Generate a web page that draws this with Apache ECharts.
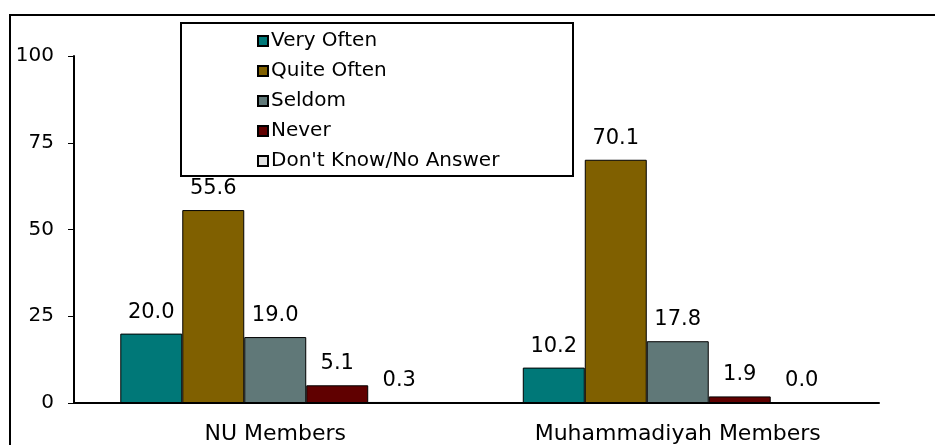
<!DOCTYPE html>
<html>
<head>
<meta charset="utf-8">
<script src="https://cdn.jsdelivr.net/npm/echarts@6/dist/echarts.min.js"></script>
<style>
  html, body { margin: 0; padding: 0; background: #fff; }
  #chart { width: 935px; height: 445px; }
</style>
</head>
<body>
<div id="chart"></div>
<script>
const categories = ['NU Members', 'Muhammadiyah Members'];
const seriesNames = ['Very Often', 'Quite Often', 'Seldom', 'Never', "Don't Know/No Answer"];
const veryOften = [20.0, 10.2];
const quiteOften = [55.6, 70.1];
const seldom = [19.0, 17.8];
const never = [5.1, 1.9];
const dontKnow = [0.3, 0.0];
const yTicks = [0, 25, 50, 75, 100];

const colors = ['#007878', '#806000', '#607878', '#600000', '#E0E0E0'];
const font = 'Verdana, "DejaVu Sans", sans-serif';

const barSeries = {
  type: 'bar',
  barGap: 0,
  barCategoryGap: '23%',
  itemStyle: {
    borderColor: '#000',
    borderWidth: 1
  },
  label: {
    show: true,
    position: 'top',
    distance: 11,
    fontFamily: font,
    fontSize: 21,
    color: '#000',
    formatter: p => p.value.toFixed(1)
  }
};

const allData = [veryOften, quiteOften, seldom, never, dontKnow];

const chart = echarts.init(document.getElementById('chart'));
const option = {
  animation: false,
  color: colors,
  grid: {
    left: 74,
    right: 56,
    top: 56,
    bottom: 40
  },
  graphic: [
    {
      type: 'rect',
      shape: { x: 10, y: 15, width: 940, height: 450 },
      style: { fill: 'none', stroke: '#000', lineWidth: 2 },
      z: 0
    },
    {
      type: 'rect',
      shape: { x: 181, y: 23, width: 392, height: 153 },
      style: { fill: '#fff', stroke: '#000', lineWidth: 2 },
      z: 10
    }
  ],
  legend: {
    orient: 'vertical',
    left: 252,
    top: 26,
    itemWidth: 10,
    itemHeight: 10,
    itemGap: 10,
    icon: 'rect',
    z: 20,
    textStyle: {
      fontFamily: font,
      fontSize: 20,
      color: '#000',
      lineHeight: 20,
      padding: [0, 0, 0, -2]
    },
    data: seriesNames
  },
  xAxis: {
    type: 'category',
    data: categories,
    axisLine: { lineStyle: { color: '#000', width: 2 } },
    axisTick: { length: 8, lineStyle: { color: '#000' } },
    axisLabel: {
      fontFamily: font,
      fontSize: 22,
      color: '#000',
      margin: 20
    }
  },
  yAxis: {
    type: 'value',
    min: yTicks[0],
    max: yTicks[yTicks.length - 1],
    interval: 25,
    axisLine: { show: true, lineStyle: { color: '#000', width: 2 } },
    axisTick: { show: true, length: 6, lineStyle: { color: '#000' } },
    splitLine: { show: false },
    axisLabel: {
      fontFamily: font,
      fontSize: 20,
      color: '#000',
      margin: 20
    }
  },
  series: seriesNames.map((name, i) => ({
    name,
    ...barSeries,
    data: allData[i]
  }))
};
chart.setOption(option);
</script>
</body>
</html>
